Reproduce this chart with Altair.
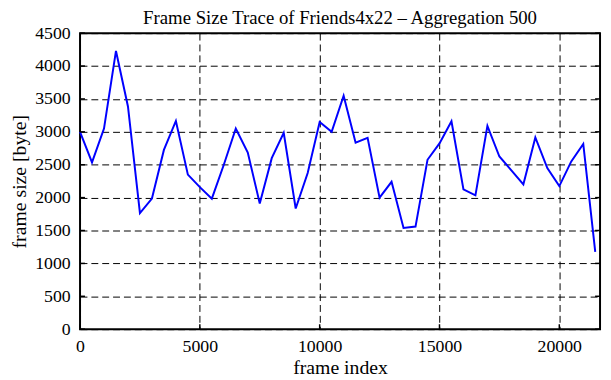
import altair as alt
import pandas as pd

frame_index = [0, 500, 1000, 1500, 2000, 2500, 3000, 3500, 4000, 4500, 5000,
               5500, 6000, 6500, 7000, 7500, 8000, 8500, 9000, 9500, 10000,
               10500, 11000, 11500, 12000, 12500, 13000, 13500, 14000, 14500,
               15000, 15500, 16000, 16500, 17000, 17500, 18000, 18500, 19000,
               19500, 20000, 20500, 21000, 21500]
frame_size = [3000, 2535, 3050, 4230, 3385, 1765, 1985, 2725, 3165, 2350, 2160,
              1985, 2500, 3050, 2685, 1910, 2600, 2985, 1835, 2375, 3150,
              3000, 3550, 2835, 2910, 2000, 2240, 1540, 1560, 2575,
              2825, 3160, 2125, 2035, 3090, 2625, 2415, 2200, 2915,
              2450, 2175, 2550, 2815, 1175]
x_ticks = [0, 5000, 10000, 15000, 20000]
y_ticks = [0, 500, 1000, 1500, 2000, 2500, 3000, 3500, 4000, 4500]

df = pd.DataFrame({"frame_index": frame_index, "frame_size": frame_size})
xt = pd.DataFrame({"t": x_ticks})
yt = pd.DataFrame({"t": y_ticks})

FONT = "Liberation Serif"
W, H = 527, 300
xs = alt.Scale(domain=[0, 21700], nice=False, zero=False)
ys = alt.Scale(domain=[0, 4500], nice=False)

grid_kw = dict(grid=True, gridColor="black", gridDash=[7, 4], gridWidth=1,
               gridOpacity=1, domain=False, ticks=False, format="d",
               labelOverlap=False, labelFlush=False,
               labelFont=FONT, labelFontSize=18, labelColor="black",
               titleFont=FONT, titleFontSize=20, titleColor="black",
               titleFontWeight="normal", titleBaseline="alphabetic")

x_axis = alt.Axis(title="frame index", values=x_ticks, titleX=W / 2,
                  titleY=45, labelPadding=9, **grid_kw)
y_axis = alt.Axis(title="frame size [byte]", values=y_ticks, titleX=-55,
                  titleY=H / 2, titleAngle=270, labelPadding=10, **grid_kw)

line = alt.Chart(df).mark_line(color="#0000ff", strokeWidth=2).encode(
    x=alt.X("frame_index:Q", scale=xs, axis=x_axis),
    y=alt.Y("frame_size:Q", scale=ys, axis=y_axis),
)

ytl = alt.Chart(yt).mark_rule(color="black", strokeWidth=1.5).encode(
    y=alt.Y("t:Q", scale=ys, axis=y_axis), x=alt.value(0), x2=alt.value(5))
ytr = alt.Chart(yt).mark_rule(color="black", strokeWidth=1.5).encode(
    y=alt.Y("t:Q", scale=ys, axis=y_axis), x=alt.value(W - 5), x2=alt.value(W))
xtb = alt.Chart(xt).mark_rule(color="black", strokeWidth=1.5).encode(
    x=alt.X("t:Q", scale=xs, axis=x_axis), y=alt.value(H - 5), y2=alt.value(H))

chart = alt.layer(line, ytl, ytr, xtb).properties(
    width=W, height=H,
    title=alt.TitleParams("Frame Size Trace of Friends4x22 \u2013 Aggregation 500",
                          font=FONT, fontSize=19, fontWeight="normal",
                          color="black", frame="group", offset=-4),
    padding={"left": 73, "top": 23, "right": 3, "bottom": 49},
    autosize=alt.AutoSizeParams(type="none"),
).configure_view(
    stroke="black", strokeWidth=2
)

chart.save("out.html", embed_options={"renderer": "svg", "actions": False})
